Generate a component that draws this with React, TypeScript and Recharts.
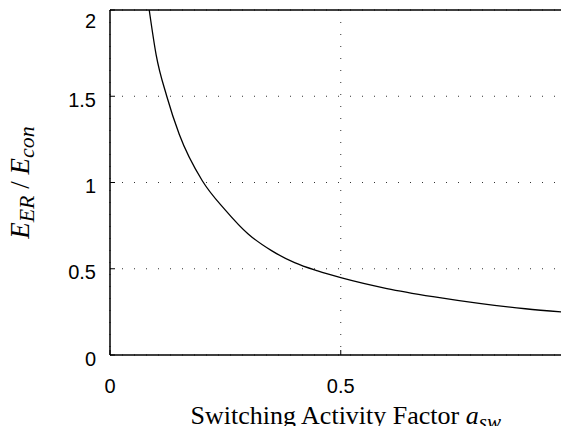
import { LineChart, Line, XAxis, YAxis, CartesianGrid, ReferenceLine, Label } from 'recharts';

// switching activity factor a_sw (x) vs energy ratio E_ER / E_con (y)
const activity = [0.085, 0.1, 0.123, 0.15, 0.2, 0.25, 0.3, 0.35, 0.4, 0.45, 0.5, 0.6, 0.7, 0.8, 0.9, 1.0];
const energyRatio = [2.0, 1.74, 1.5, 1.28, 1.01, 0.84, 0.7, 0.605, 0.535, 0.487, 0.448, 0.385, 0.338, 0.299, 0.268, 0.245];
const xTicks = [0, 0.5, 1];
const yTicks = [0, 0.5, 1, 1.5, 2];

const data = activity.map((x, i) => ({ x, y: energyRatio[i] }));

const sans = '"Liberation Sans", Arial, sans-serif';
const serif = '"Liberation Serif", "Times New Roman", serif';

function YTick({ x, y, payload }: any) {
  return (
    <text x={x} y={y} dy={10.5} textAnchor="end" fontFamily={sans} fontSize={20} fill="#000">
      {payload.value}
    </text>
  );
}

function XTick({ x, y, payload }: any) {
  return (
    <text x={x} y={y} textAnchor="middle" fontFamily={sans} fontSize={20} fill="#000">
      {payload.value}
    </text>
  );
}

function XTitle({ viewBox }: any) {
  const cx = viewBox.x + viewBox.width / 2 + 5;
  return (
    <text x={cx} y={viewBox.y + 69} textAnchor="middle" fontFamily={serif} fontSize={26} fill="#000">
      Switching Activity Factor <tspan fontStyle="italic">a</tspan>
      <tspan fontStyle="italic" fontSize={21} dy={5}>sw</tspan>
    </text>
  );
}

// rotated y title; subscripts via dy shifts
function YTitle({ viewBox }: any) {
  const cx = viewBox.x + 21;
  const cy = viewBox.y + viewBox.height / 2;
  return (
    <g transform={`translate(${cx} ${cy}) rotate(-90)`}>
      <text x={0} y={0} textAnchor="middle" fontFamily={serif} fontSize={27} fill="#000">
        <tspan fontStyle="italic">E</tspan>
        <tspan fontStyle="italic" fontSize={22} dy={5}>ER</tspan>
        <tspan dy={-5}> / </tspan>
        <tspan fontStyle="italic">E</tspan>
        <tspan fontStyle="italic" fontSize={22} dy={5}>con</tspan>
      </text>
    </g>
  );
}

export default function App() {
  return (
    <div style={{ width: 561, height: 426, marginBottom: -8, overflow: 'hidden', background: '#fff' }}>
      <LineChart width={575} height={426} data={data} margin={{ top: 2, right: 11.5, left: 0, bottom: 8 }}>
        <CartesianGrid stroke="#333" strokeDasharray="1 11" />
        <XAxis
          dataKey="x"
          type="number"
          domain={[0, 1]}
          ticks={xTicks}
          height={71}
          axisLine={{ stroke: '#000', strokeWidth: 1.5 }}
          tickLine={{ stroke: '#000' }}
          tickSize={-5}
          tickMargin={43}
          tick={<XTick />}
        >
          <Label content={<XTitle />} />
        </XAxis>
        <YAxis
          type="number"
          domain={[0, 2]}
          ticks={yTicks}
          width={102}
          axisLine={{ stroke: '#000', strokeWidth: 1.5 }}
          tickLine={{ stroke: '#000' }}
          tickSize={-5}
          tickMargin={19}
          tick={<YTick />}
        >
          <Label content={<YTitle />} />
        </YAxis>
        <ReferenceLine y={2} stroke="#000" strokeWidth={1.5} />
        <ReferenceLine x={1} stroke="#000" strokeWidth={1.5} />
        <Line
          type="monotone"
          dataKey="y"
          stroke="#000"
          strokeWidth={1.3}
          dot={false}
          isAnimationActive={false}
        />
      </LineChart>
    </div>
  );
}
